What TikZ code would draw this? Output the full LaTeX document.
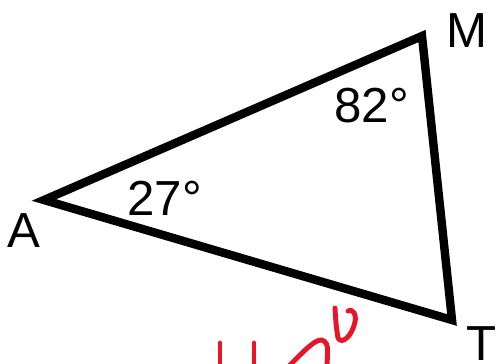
\documentclass[tikz,border=0pt]{standalone}
\usepackage{fontspec}
\setmainfont{Liberation Sans}
\usetikzlibrary{calc}
\definecolor{pen}{RGB}{232,20,40}
\tikzset{%
  side/.style={line width=4.8pt, line join=miter},
  lbl/.style={anchor=base west, inner sep=0pt, font=\fontsize{28}{28}\selectfont},
  ink/.style={draw=pen, line width=2.8pt, line cap=round, line join=round},
}

\begin{document}
\begin{tikzpicture}[x=0.02cm, y=-0.02cm]
    \useasboundingbox (0,0) rectangle (500,363);
    \coordinate (A) at (44,200);
    \coordinate (M) at (422,36);
    \coordinate (T) at (452,320);

    %triangle
    \draw[side] (A) -- (M) -- (T) -- cycle;

    %vertex names
    \node[lbl] (nA) at (7,247) {A};
    \node[lbl] (nM) at (446,47) {M};
    \node[lbl] (nT) at (466,360) {T};

    %angles
    \node[lbl] (aM) at (334,122) {82°};
    \node[lbl] (aA) at (127,215) {27°};

    % red handwriting
    \draw[ink] (220,343) -- (220,366);
    \draw[ink] (254,343) -- (254,366);
    \draw[ink] (290,365) .. controls (305,350) and (318,336) .. (324,341) .. controls (328,345) .. (327,366);
    \draw[ink] (335,308) .. controls (336,325) .. (338,338) .. controls (342,345) and (352,336) .. (355,322) .. controls (357,313) and (351,308) .. (348,311);
\end{tikzpicture}
\end{document}
